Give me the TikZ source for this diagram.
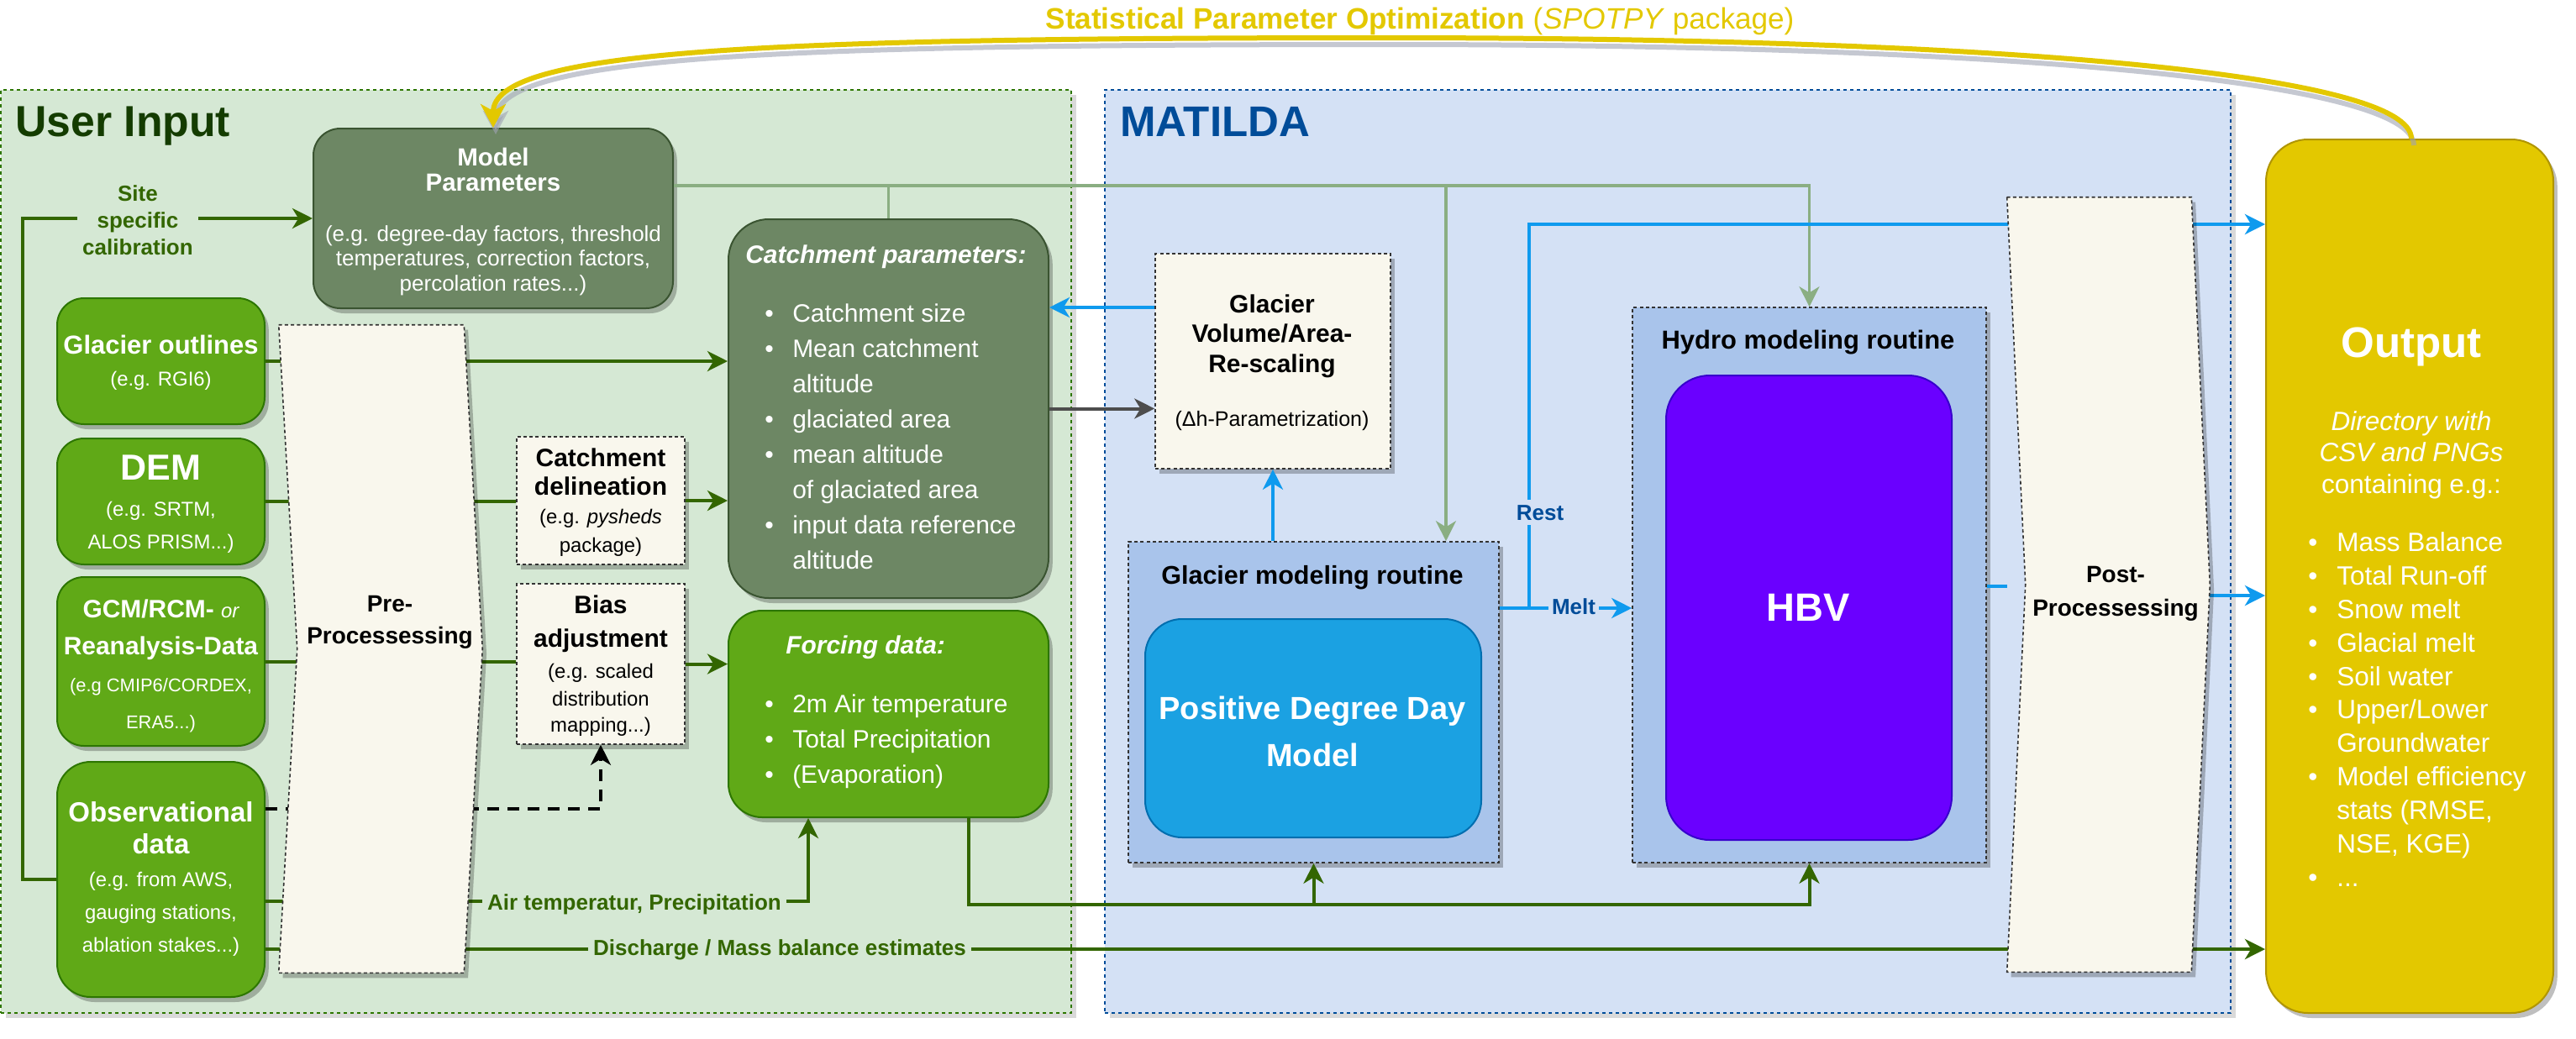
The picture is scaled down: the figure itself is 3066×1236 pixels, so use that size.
\documentclass[tikz,border=0pt]{standalone}
\usepackage{fontspec}
\setmainfont{Liberation Sans}
\usetikzlibrary{arrows.meta,shadows,calc,fit}
\definecolor{uiFill}{HTML}{D5E8D4}
\definecolor{uiLine}{HTML}{2D7600}
\definecolor{uiTitle}{HTML}{143C00}
\definecolor{maFill}{HTML}{D4E1F5}
\definecolor{maLine}{HTML}{004C99}
\definecolor{dkGreen}{HTML}{6D8764}
\definecolor{dkGreenLine}{HTML}{3A5431}
\definecolor{inGreen}{HTML}{60A917}
\definecolor{inGreenLine}{HTML}{2D7600}
\definecolor{arrGreen}{HTML}{336600}
\definecolor{ggLine}{HTML}{8AAE82}
\definecolor{procFill}{HTML}{F9F7ED}
\definecolor{routFill}{HTML}{A9C4EB}
\definecolor{pddFill}{HTML}{1BA1E2}
\definecolor{pddLine}{HTML}{006EAF}
\definecolor{hbvFill}{HTML}{6A00FF}
\definecolor{hbvLine}{HTML}{3700CC}
\definecolor{outFill}{HTML}{E3C800}
\definecolor{outLine}{HTML}{B09500}
\definecolor{blueArr}{HTML}{0F9AEE}
\definecolor{grayArr}{HTML}{4D4D4D}
\definecolor{shadowCol}{HTML}{9FA3B3}
\newcommand\fz[2]{\fontsize{#1pt}{#2pt}\selectfont}
\newcommand\TLx[2]{\begin{tabular}[t]{@{}#1@{}}#2\end{tabular}}
\newcommand\cbul[1]{\makebox[8.25mm][l]{\textbullet}#1}
\newcommand\obul{\makebox[8.5mm][l]{\textbullet}}
\newcommand\ohang{\hspace*{8.5mm}}
\tikzset{
  shd/.style={drop shadow={shadow xshift=1.2mm, shadow yshift=-1.5mm, fill=black, opacity=0.25}},
  container/.style={inner sep=0pt, line width=0.45mm, dash pattern=on 1mm off 1mm,
    drop shadow={shadow xshift=1.5mm, shadow yshift=-1.5mm, fill=black, opacity=0.15}},
  dkbox/.style={fill=dkGreen, draw=dkGreenLine, line width=0.5mm, inner sep=0pt, shd},
  inbox/.style={fill=inGreen, draw=inGreenLine, line width=0.5mm, inner sep=0pt, shd},
  procbox/.style={fill=procFill, draw=black!80, line width=0.4mm, dash pattern=on 1mm off 0.8mm, inner sep=0pt, shd},
  routbox/.style={fill=routFill, draw=black!80, line width=0.4mm, dash pattern=on 1mm off 0.8mm, inner sep=0pt, shd},
  txt/.style={inner sep=0pt, anchor=base},
  lbl/.style={inner xsep=1.5mm, inner ysep=0.5mm, anchor=base, font=\fz{18.5}{22}\bfseries},
  mytip/.style={-{Stealth[length=6mm,width=6mm,inset=1.8mm]}},
  gline/.style={draw=arrGreen, line width=1mm},
  garrow/.style={gline, mytip},
  ggline/.style={draw=ggLine, line width=0.8mm},
  ggarrow/.style={ggline, mytip},
  bline/.style={draw=blueArr, line width=1mm},
  barrow/.style={bline, mytip},
  grayarrow/.style={draw=grayArr, line width=1mm, mytip},
  kdash/.style={draw=black, line width=1mm, dash pattern=on 3.5mm off 2.5mm, mytip},
  ycurve/.style={draw=outFill, line width=1.5mm, -{Stealth[length=7mm,width=7.5mm,inset=2mm]}}
}
\begin{document}
\begin{tikzpicture}[x=0.25mm,y=-0.25mm]
\useasboundingbox (0,0) rectangle (3066,1236);

% containers
\node[container, fill=uiFill, draw=uiLine, fit={(1,107)(1275,1206)}] (user) {};
\node[container, fill=maFill, draw=maLine, fit={(1315,107)(2655,1206)}] (matilda) {};
\node[txt, anchor=base west, font=\fz{36.8}{40}\bfseries, text=uiTitle] (usertitle) at (18,162) {User Input};
\node[txt, anchor=base west, font=\fz{36.3}{40}\bfseries, text=maLine] (matildatitle) at (1333,162) {MATILDA};

% boxes
\node[dkbox, rounded corners=8mm, fit={(373,153)(801,367)}] (mp) {};
\node[dkbox, rounded corners=12mm, fit={(867,261)(1248,712)}] (catch) {};
\node[inbox, rounded corners=10mm, fit={(867,727)(1248,973)}] (forcing) {};
\node[inbox, rounded corners=8mm, fit={(68,355)(315,505)}] (glac) {};
\node[inbox, rounded corners=8mm, fit={(68,522)(315,672)}] (dem) {};
\node[inbox, rounded corners=8mm, fit={(68,687)(315,888)}] (gcm) {};
\node[inbox, rounded corners=10mm, fit={(68,907)(315,1187)}] (obs) {};
\node[procbox, fit={(615,520)(815,672)}] (cd) {};
\node[procbox, fit={(615,695)(815,886)}] (bias) {};
\node[procbox, fit={(1375,302)(1655,558)}] (gva) {};
\node[routbox, fit={(1343,645)(1784,1027)}] (glr) {};
\node[fill=pddFill, draw=pddLine, line width=0.5mm, rounded corners=11mm, inner sep=0pt, fit={(1363,737)(1763,997)}] (pdd) {};
\node[routbox, fit={(1943,366)(2364,1027)}] (hydro) {};
\node[fill=hbvFill, draw=hbvLine, line width=0.5mm, rounded corners=13mm, inner sep=0pt, fit={(1983,447)(2323,1000)}] (hbv) {};
\node[fill=outFill, draw=outLine, line width=0.5mm, rounded corners=12.5mm, inner sep=0pt, shd, fit={(2697,166)(3039,1206)}] (out) {};
\node[inner sep=0pt, fit={(332,387)(552,1158)}] (pp) {};
\node[inner sep=0pt, fit={(2389,235)(2608,1157)}] (post) {};

% box texts
\node[txt, font=\fz{21}{22}\bfseries, text=white] (mptitle) at (587,197) {\TLx{c}{Model\\Parameters}};
\node[txt, font=\fz{18.5}{21.3}, text=white] (mpbody) at (587,287) {\TLx{c}{(e.g. degree-day factors, threshold\\temperatures, correction factors,\\percolation rates...)}};
\node[txt, font=\fz{22}{27.7}\bfseries, text=white] (glactxt) at (191.5,421) {\TLx{c}{Glacier outlines\\{\mdseries\fz{17}{20}(e.g. RGI6)}}};
\node[txt, font=\fz{30.6}{27.7}\bfseries, text=white] (demtxt) at (191.5,571) {\TLx{c}{DEM\\[1.25mm]{\mdseries\fz{17}{20}(e.g. SRTM,}\\{\mdseries\fz{17}{20}ALOS PRISM...)}}};
\node[txt, font=\fz{21.3}{31.3}\bfseries, text=white] (gcmtxt) at (191.5,735) {\TLx{c}{GCM/RCM- {\mdseries\itshape\fz{17}{20}or}\\Reanalysis-Data\\{\mdseries\fz{15.6}{20}(e.g CMIP6/CORDEX,}\\{\mdseries\fz{15.6}{20}ERA5...)}}};
\node[txt, font=\fz{23.5}{27.7}\bfseries, text=white] (obstxt) at (191.5,978) {\TLx{c}{Observational\\data\\{\mdseries\fz{17}{20}(e.g. from AWS,}\\{\mdseries\fz{17}{20}gauging stations,}\\{\mdseries\fz{17}{20}ablation stakes...)}}};
\node[txt, font=\fz{21.3}{24.2}\bfseries] (cdtxt) at (715,555) {\TLx{c}{Catchment\\delineation\\{\mdseries\fz{17}{20}(e.g. \textit{pysheds}}\\{\mdseries\fz{17}{20}package)}}};
\node[txt, font=\fz{21.3}{24.9}\bfseries] (biastxt) at (715,730) {\TLx{c}{Bias\\[1.25mm]adjustment\\[0.5mm]{\mdseries\fz{17}{20}(e.g. scaled}\\[-0.5mm]{\mdseries\fz{17}{20}distribution}\\[-1mm]{\mdseries\fz{17}{20}mapping...)}}};
\node[txt, anchor=base west, font=\fz{21.3}{29.9}, text=white] (catchtxt) at (887,313) {\TLx{l}{{\bfseries\itshape Catchment parameters:}\\[7mm]
\hspace*{5.75mm}\cbul{Catchment size}\\
\hspace*{5.75mm}\cbul{Mean catchment}\\
\hspace*{14mm}altitude\\
\hspace*{5.75mm}\cbul{glaciated area}\\
\hspace*{5.75mm}\cbul{mean altitude}\\
\hspace*{14mm}of glaciated area\\
\hspace*{5.75mm}\cbul{input data reference}\\
\hspace*{14mm}altitude}};
\node[txt, anchor=base west, font=\fz{21.3}{29.9}, text=white] (forcingtxt) at (910,778) {\TLx{l}{\hspace*{6.25mm}{\bfseries\itshape Forcing data:}\\[7mm]
\cbul{2m Air temperature}\\
\cbul{Total Precipitation}\\
\cbul{(Evaporation)}}};
\node[txt, font=\fz{21.3}{25.6}\bfseries] (gvatxt) at (1514,372) {\TLx{c}{Glacier\\Volume/Area-\\Re-scaling\\[7mm]{\mdseries\fz{17.8}{20}(Δh-Parametrization)}}};
\node[txt, font=\fz{21.7}{25}\bfseries] (glrtitle) at (1562,695) {Glacier modeling routine};
\node[txt, font=\fz{27}{40.5}\bfseries, text=white] (pddtxt) at (1562,856) {\TLx{c}{Positive Degree Day\\Model}};
\node[txt, font=\fz{22}{25}\bfseries] (hydrotitle) at (2152,415) {Hydro modeling routine};
\node[txt, font=\fz{33.4}{40}\bfseries, text=white] (hbvtxt) at (2152,739) {HBV};
\node[txt, font=\fz{36.3}{40}\bfseries, text=white] (outtitle) at (2870,425) {Output};
\node[txt, font=\fz{22.4}{27}, text=white] (outhead) at (2870,512) {\TLx{c}{\textit{Directory with}\\\textit{CSV and PNGs}\\containing e.g.:}};
\node[txt, anchor=base west, font=\fz{22.4}{28.45}, text=white] (outlist) at (2747,656) {\TLx{l}{\obul Mass Balance\\\obul Total Run-off\\\obul Snow melt\\\obul Glacial melt\\\obul Soil water\\\obul Upper/Lower\\\ohang Groundwater\\\obul Model efficiency\\\ohang stats (RMSE,\\\ohang NSE, KGE)\\\obul ...}};

% connectors
\draw[garrow] (obs.west) -- (obs.west -| 27,0) |- (mp.west);
\draw[garrow] (glac.east) -- (catch.west |- glac.east);
\draw[gline] (dem.east) -- (cd.west |- dem.east);
\draw[garrow] (cd.east) -- (catch.west |- cd.east);
\draw[gline] (gcm.east) -- (bias.west |- gcm.east);
\draw[garrow] (bias.east) -- (forcing.west |- bias.east);
\draw[kdash] (obs.east |- 0,963) -| (bias.south);
\draw[garrow] (obs.east |- 0,1073) -| (forcing.south -| 962,0);
\draw[garrow] (obs.east |- 0,1130) -- (out.west |- 0,1130);
\coordinate (fj) at (1153,1077);
\draw[gline] (forcing.south -| fj) |- (glr.south |- fj);
\draw[garrow] (glr.south |- fj) -- (glr.south);
\draw[garrow] (glr.south |- fj) -| (hydro.south);
\draw[ggline] (mp.east |- 0,221) -| (catch.north);
\draw[ggarrow] (mp.east |- 0,221) -| (glr.north -| 1721,0);
\draw[ggarrow] (mp.east |- 0,221) -| (hydro.north);
\draw[grayarrow] (catch.east) -- (gva.west |- catch.east);
\draw[barrow] (gva.west |- 0,366) -- (catch.east |- 0,366);
\draw[barrow] (gva.south |- glr.north) -- (gva.south);
\draw[barrow] (glr.east |- 0,724) -- (hydro.west |- 0,724);
\coordinate (rc) at (1820,267);
\draw[barrow] (glr.east |- 0,724) -| (rc) -- (out.west |- rc);
\draw[bline] (hydro.east |- 0,698) -- (post.west |- 0,698);
\draw[barrow] (post.east |- 0,709) -- (out.west |- 0,709);

% pre / post processing shapes
\draw[procbox] (pp.north west) -- (pp.north east) -- ([xshift=5.5mm]pp.east) -- (pp.south east) -- (pp.south west) -- ([xshift=5.5mm]pp.west) -- cycle;
\node[txt, font=\fz{19.9}{27.7}\bfseries] (pptxt) at (464,728) {\TLx{c}{Pre-\\Processessing}};
\draw[procbox] (post.north west) -- (post.north east) -- ([xshift=5.5mm]post.east) -- (post.south east) -- (post.south west) -- ([xshift=5.5mm]post.west) -- cycle;
\node[txt, font=\fz{19.9}{28.45}\bfseries] (posttxt) at (2518,693) {\TLx{c}{Post-\\Processessing}};

% connector labels
\node[lbl, font=\fz{18.5}{22.8}\bfseries, text=arrGreen, fill=uiFill] (lsite) at (164,239) {\TLx{c}{Site\\specific\\calibration}};
\node[lbl, text=arrGreen, fill=uiFill] (lair) at (755,1083) {Air temperatur, Precipitation};
\node[lbl, text=arrGreen, fill=uiFill] (ldis) at (928,1137) {Discharge / Mass balance estimates};
\node[lbl, text=maLine, fill=maFill, inner ysep=1.5mm, inner xsep=0.5mm] (lrest) at (1833,619) {Rest};
\node[lbl, text=maLine, fill=maFill, inner xsep=1mm] (lmelt) at (1873,731) {Melt};

% optimisation loop
\draw[ycurve, draw=shadowCol, opacity=0.6, transform canvas={xshift=0.75mm,yshift=-2mm}] (out.north -| 2870,0) .. controls (2870,90) and (2400,45) .. (1650,45) .. controls (900,45) and (587,60) .. (mp.north);
\draw[ycurve] (out.north -| 2870,0) .. controls (2870,90) and (2400,45) .. (1650,45) .. controls (900,45) and (587,60) .. (mp.north);
\node[txt, font=\fz{25}{29}, text=outFill] (title) at (1690,34) {\textbf{Statistical Parameter Optimization} (\textit{SPOTPY} package)};
\end{tikzpicture}
\end{document}
